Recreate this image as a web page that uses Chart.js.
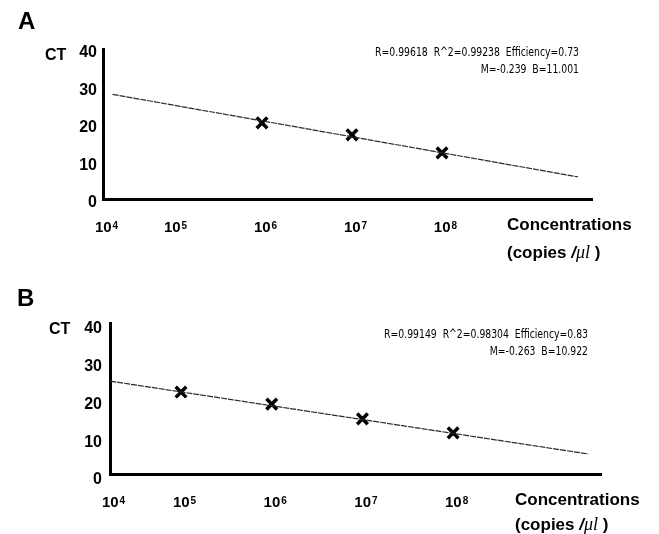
<!DOCTYPE html>
<html lang="en">
<head>
    <meta charset="UTF-8">
    <title>Standard curves CT vs concentration</title>
    <script src="https://cdn.jsdelivr.net/npm/chart.js"></script>
    <style>
        html, body { margin: 0; padding: 0; background: #fff; }
        canvas { display: block; }
    </style>
</head>
<body>
    <canvas id="chartA" width="659" height="267"></canvas>
    <canvas id="chartB" width="659" height="267"></canvas>

    <script>
        // x values are log10(copies/ul), y values are CT
        const ctTicks = [0, 10, 20, 30, 40];
        const concExponents = [4, 5, 6, 7, 8];

        const panelALogConc = [6, 7, 8];
        const panelACt = [20.3, 17.1, 12.3];
        const panelAFitLog = [4.34, 9.51];
        const panelAFitCt = [27.9, 5.9];
        const panelAStats = ['R=0.99618  R^2=0.99238  Efficiency=0.73', 'M=-0.239  B=11.001'];

        const panelBLogConc = [5, 6, 7, 8];
        const panelBCt = [21.7, 18.5, 14.6, 10.9];
        const panelBFitLog = [4.22, 9.49];
        const panelBFitCt = [24.6, 5.3];
        const panelBStats = ['R=0.99149  R^2=0.98304  Efficiency=0.83', 'M=-0.263  B=10.922'];

        const SANS = '"Liberation Sans", Arial, Helvetica, sans-serif';

        // x tick labels as 10 with a raised exponent, placed by the x scale
        const powerTicks = {
            id: 'powerTicks',
            afterDraw(chart) {
                const ctx = chart.ctx;
                const sx = chart.scales.x;
                const y = chart.chartArea.bottom + 29;
                ctx.save();
                ctx.fillStyle = '#000';
                ctx.textAlign = 'left';
                ctx.textBaseline = 'middle';
                sx.ticks.forEach(t => {
                    const px = sx.getPixelForValue(t.value);
                    const exp = String(Math.round(t.value));
                    ctx.font = 'bold 15px ' + SANS;
                    const w1 = ctx.measureText('10').width;
                    ctx.font = 'bold 10px ' + SANS;
                    const w2 = ctx.measureText(exp).width;
                    const x0 = px - (w1 + w2) / 2 + 3;
                    ctx.font = 'bold 15px ' + SANS;
                    ctx.fillText('10', x0, y);
                    ctx.font = 'bold 10px ' + SANS;
                    ctx.fillText(exp, x0 + w1 + 1, y - 2);
                });
                ctx.restore();
            }
        };

        // letters, CT title, fit statistics and the x axis title
        const panelText = {
            id: 'panelText',
            afterDraw(chart, args, o) {
                const ctx = chart.ctx;
                ctx.save();
                ctx.fillStyle = '#000';

                ctx.textAlign = 'left';
                ctx.textBaseline = 'alphabetic';
                ctx.font = 'bold 24px ' + SANS;
                ctx.fillText(o.letter, o.letterPos[0], o.letterPos[1]);

                ctx.textBaseline = 'middle';
                ctx.font = 'bold 16px ' + SANS;
                ctx.fillText('CT', o.ctPos[0], o.ctPos[1]);

                // narrow statistics text, squeezed horizontally
                ctx.textAlign = 'right';
                ctx.font = '12px "Liberation Sans Narrow", "DejaVu Sans Condensed", sans-serif';
                o.stats.forEach((s, i) => {
                    ctx.save();
                    ctx.translate(o.statsPos[0], o.statsPos[1] + i * 17);
                    ctx.scale(0.86, 1);
                    ctx.fillText(s, 0, 0);
                    ctx.restore();
                });

                ctx.textAlign = 'left';
                ctx.font = 'bold 17px ' + SANS;
                ctx.fillText('Concentrations', o.titlePos[0], o.titlePos[1]);

                // (copies /µl )
                let x = o.titlePos[0];
                const y = o.titlePos[1] + o.titleGap;
                const parts = [
                    ['(copies ', 'bold 17px ' + SANS],
                    ['/', 'italic bold 17px ' + SANS],
                    ['\u03bcl', 'italic 18px "Liberation Serif", "Times New Roman", serif'],
                    [' )', 'bold 17px ' + SANS]
                ];
                parts.forEach(([t, f]) => {
                    ctx.font = f;
                    ctx.fillText(t, x, y);
                    x += ctx.measureText(t).width;
                });
                ctx.restore();
            }
        };

        function makePanel(id, logConc, ct, fitLog, fitCt, layout, text) {
            const ctx = document.getElementById(id).getContext('2d');
            return new Chart(ctx, {
                type: 'scatter',
                data: {
                    datasets: [
                        {
                            label: 'fit',
                            type: 'line',
                            data: fitLog.map((v, i) => ({ x: v, y: fitCt[i] })),
                            borderColor: '#2a2a2a',
                            borderWidth: 1.2,
                            borderDash: [6, 1],
                            pointRadius: 0,
                            fill: false,
                            tension: 0
                        },
                        {
                            label: 'standards',
                            data: logConc.map((v, i) => ({ x: v, y: ct[i] })),
                            pointStyle: 'crossRot',
                            pointRadius: 7.5,
                            pointBorderWidth: 3.5,
                            borderColor: '#000',
                            backgroundColor: '#000'
                        }
                    ]
                },
                options: {
                    responsive: false,
                    animation: false,
                    layout: { padding: { top: layout.top, right: layout.right, left: 0, bottom: 0 } },
                    plugins: {
                        legend: { display: false },
                        tooltip: { enabled: false },
                        panelText: text
                    },
                    scales: {
                        x: {
                            type: 'linear',
                            min: layout.xMin,
                            max: layout.xMax,
                            grid: { display: false, drawTicks: false },
                            border: { display: true, color: '#000', width: 3 },
                            afterBuildTicks: (s) => {
                                s.ticks = concExponents.map(v => ({ value: Math.max(v, s.min) }));
                            },
                            afterFit: (s) => { s.height = layout.xHeight; },
                            ticks: { display: false }
                        },
                        y: {
                            min: 0,
                            max: 40,
                            grid: { display: false, drawTicks: false },
                            border: { display: true, color: '#000', width: 3 },
                            afterBuildTicks: (s) => { s.ticks = ctTicks.map(v => ({ value: v })); },
                            afterFit: (s) => { s.width = layout.yWidth; },
                            ticks: {
                                padding: layout.yPad,
                                labelOffset: layout.yLabelOffset,
                                color: '#000',
                                font: { family: SANS, size: 16, weight: 'bold' }
                            }
                        }
                    }
                },
                plugins: [panelText, powerTicks]
            });
        }

        makePanel('chartA', panelALogConc, panelACt, panelAFitLog, panelAFitCt,
            { top: 49, right: 67, xHeight: 68, yWidth: 103, yPad: 6, yLabelOffset: 4, xMin: 4.233, xMax: 9.667 },
            { letter: 'A', letterPos: [18, 29], ctPos: [45, 56], stats: panelAStats, statsPos: [579, 53], titlePos: [507, 225], titleGap: 28 });

        makePanel('chartB', panelBLogConc, panelBCt, panelBFitLog, panelBFitCt,
            { top: 56, right: 58, xHeight: 60, yWidth: 110, yPad: 8, yLabelOffset: 6, xMin: 4.217, xMax: 9.63 },
            { letter: 'B', letterPos: [17, 39], ctPos: [49, 63], stats: panelBStats, statsPos: [588, 68], titlePos: [515, 233], titleGap: 25 });
    </script>
</body>
</html>
